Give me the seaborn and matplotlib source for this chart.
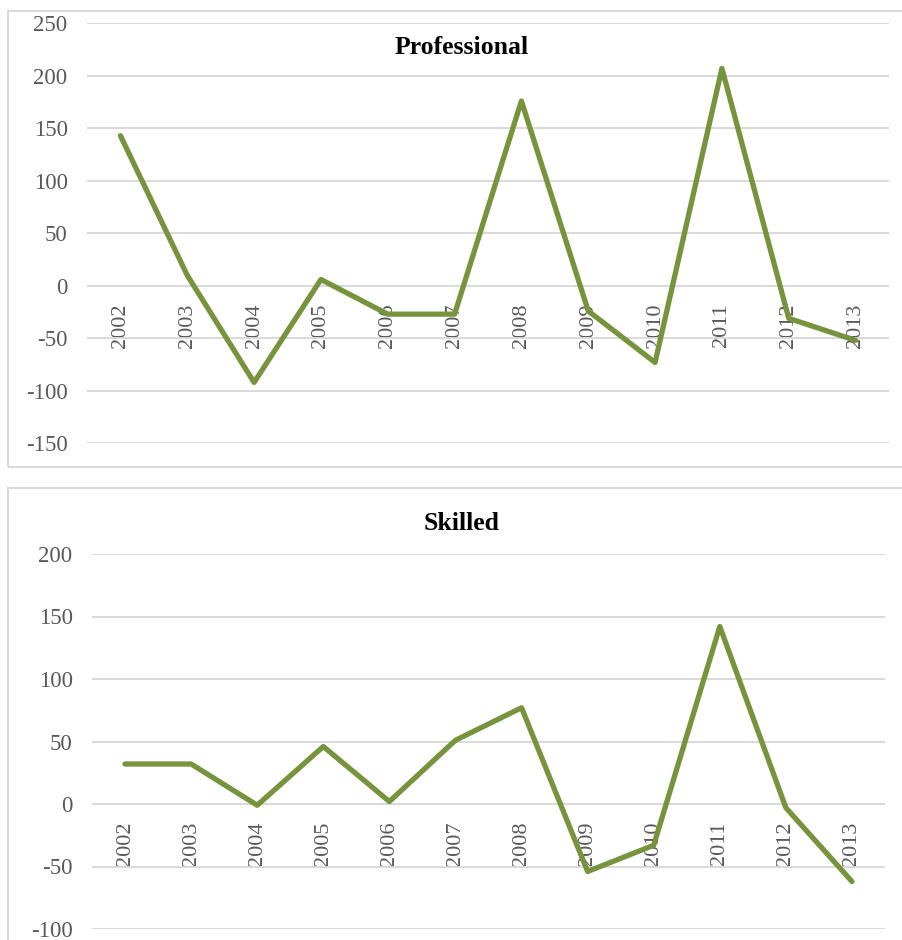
import matplotlib
matplotlib.use("Agg")
import matplotlib.pyplot as plt
from matplotlib.patches import Rectangle
import seaborn as sns
import pandas as pd

years = ["2002", "2003", "2004", "2005", "2006", "2007",
         "2008", "2009", "2010", "2011", "2012", "2013"]
professional = [143, 10, -92, 6, -27, -27, 176, -24, -73, 207, -31, -52]
skilled = [32, 32, -1, 46, 2, 51, 77, -54, -33, 142, -3, -62]

prof_ticks = [-150, -100, -50, 0, 50, 100, 150, 200, 250]
skill_ticks = [-100, -50, 0, 50, 100, 150, 200]

LINE = "#77933C"
GRID = "#D9D9D9"
TEXT = "#595959"

sns.set_theme(style="white")
plt.rcParams["font.family"] = ["Liberation Serif", "DejaVu Serif"]

W, H = 903, 940
fig = plt.figure(figsize=(W / 100, H / 100), dpi=100)


def px_axes(x0, x1, ytop, ybot):
    return fig.add_axes([x0 / W, 1 - ybot / H, (x1 - x0) / W, (ybot - ytop) / H])


def draw_panel(ax, values, ticks, title, title_y):
    df = pd.DataFrame({"year": years, "value": values})
    sns.lineplot(data=df, x="year", y="value", ax=ax, color=LINE,
                 linewidth=3.8, solid_capstyle="round", solid_joinstyle="round",
                 sort=False, zorder=3)
    ax.set_xlim(-0.5, len(years) - 0.5)
    ax.set_ylim(ticks[0], ticks[-1])
    ax.set_yticks(ticks)
    ax.set_yticklabels([str(t) for t in ticks])
    ax.set_xticks(range(len(years)))
    ax.set_xticklabels(years)
    for s in ["top", "right", "left"]:
        ax.spines[s].set_visible(False)
    ax.spines["bottom"].set_position(("data", 0))
    ax.spines["bottom"].set_visible(False)
    ax.tick_params(axis="x", length=0, pad=12.5, labelsize=16,
                   labelcolor=TEXT, labelrotation=90)
    ax.tick_params(axis="y", length=0, pad=14, labelsize=16.5, labelcolor=TEXT)
    ax.yaxis.grid(True, color=GRID, linewidth=1.4, zorder=0)
    ax.xaxis.grid(False)
    ax.set_xlabel("")
    ax.set_ylabel("")
    ax.set_facecolor("none")
    fig.text(462 / W, 1 - title_y / H, title, ha="center", va="center",
             fontsize=18.5, fontweight="bold", color="black")


# chart frames
fig.add_artist(Rectangle((8 / W, 1 - 467 / H), (1000 - 8) / W, (467 - 11) / H,
                         transform=fig.transFigure, fill=False,
                         edgecolor=GRID, linewidth=1.5))
fig.add_artist(Rectangle((8 / W, 1 - 1100 / H), (1000 - 8) / W, (1100 - 488) / H,
                         transform=fig.transFigure, fill=False,
                         edgecolor=GRID, linewidth=1.5))

ax1 = px_axes(87, 889, 23.3, 443.3)
draw_panel(ax1, professional, prof_ticks, "Professional", 48)

ax2 = px_axes(92, 885, 554, 929)
draw_panel(ax2, skilled, skill_ticks, "Skilled", 523)

fig.savefig("out.png", dpi=100)
